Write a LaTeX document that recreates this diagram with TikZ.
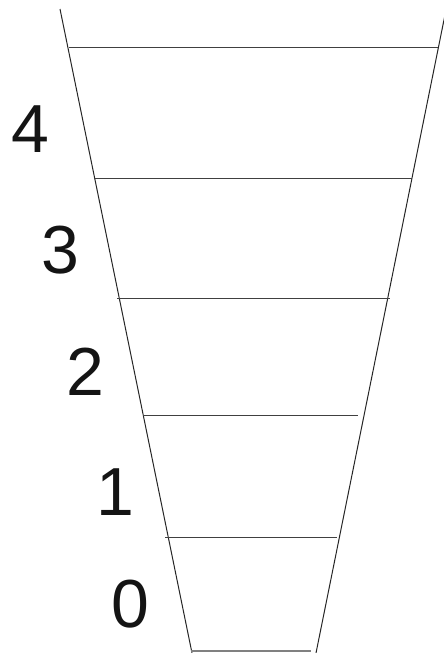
\documentclass[tikz,border=0pt]{standalone}
\usepackage{fontspec}
\setmainfont{Liberation Sans}
\begin{document}
\begin{tikzpicture}[x=1pt,y=-1pt,
  edge/.style={line width=1pt,draw=black!85},
  rung/.style={line width=1pt,draw=black!75},
  base/.style={line width=2pt,draw=black!50},
  lbl/.style={inner sep=0pt,font=\fontsize{68}{68}\selectfont,text=black!92}]
\useasboundingbox (0,0) rectangle (444,653);
% side lines
\coordinate (LT) at (60,9);
\coordinate (LB) at (192,653);
\coordinate (RT) at (448,0);
\coordinate (RB) at (316,653);
\draw[edge] (LT) -- (LB);
\draw[edge] (RT) -- (RB);
% rungs
\coordinate (a1) at (69,47);  \coordinate (a2) at (438,47);
\coordinate (b1) at (95,178); \coordinate (b2) at (412,178);
\coordinate (c1) at (117,298); \coordinate (c2) at (390,298);
\coordinate (d1) at (143,415); \coordinate (d2) at (358,415);
\coordinate (e1) at (165,537); \coordinate (e2) at (337,537);
\coordinate (f1) at (191,651); \coordinate (f2) at (311,651);
\draw[rung] (a1) -- (a2);
\draw[rung] (b1) -- (b2);
\draw[rung] (c1) -- (c2);
\draw[rung] (d1) -- (d2);
\draw[rung] (e1) -- (e2);
\draw[base] (f1) -- (f2);
% labels
\node[lbl] (n4) at (30,129) {4};
\node[lbl] (n3) at (60,250) {3};
\node[lbl] (n2) at (85,372) {2};
\node[lbl] (n1) at (115,492) {1};
\node[lbl] (n0) at (130,604) {0};
\end{tikzpicture}
\end{document}
